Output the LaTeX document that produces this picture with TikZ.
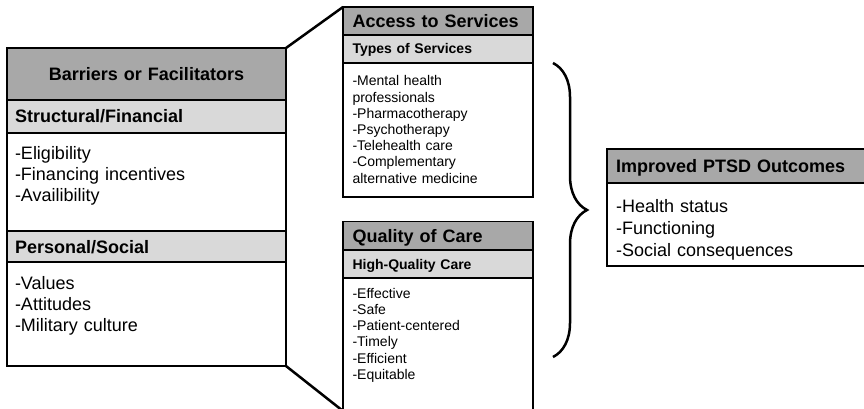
\documentclass[tikz,border=0pt]{standalone}
\usepackage{fontspec}
\setmainfont{Liberation Sans}
\usetikzlibrary{positioning,decorations.pathreplacing}
\definecolor{headdark}{gray}{0.66}
\definecolor{headlight}{gray}{0.85}
\tikzset{
	part/.style={draw,line width=1.5pt,inner ysep=0pt,outer sep=0pt,align=left},
	dark/.style={part,fill=headdark,text depth=0pt},
	light/.style={part,fill=headlight,text depth=0pt},
	list/.style 2 args={part,fill=white,text height=#1,text depth=#2},
	leftcol/.style={text width=263pt,inner xsep=8pt,font=\fontsize{18}{21}\selectfont},
	midcol/.style={text width=171pt,inner xsep=9.5pt,font=\fontsize{14}{16.2}\selectfont},
	outcol/.style={text width=248pt,inner xsep=9pt,font=\fontsize{18}{21.7}\selectfont},
	link/.style={line width=2.5pt}
}
\begin{document}
\begin{tikzpicture}[x=1pt,y=-1pt]
	\useasboundingbox (0,0) rectangle (864,409);

	\node[dark,leftcol,align=center,text height=13pt,minimum height=52pt,anchor=north west] (barriers) at (7,48) {\textbf{Barriers or Facilitators}};
	\node[light,leftcol,text height=13pt,minimum height=33pt] (structural) [below=0pt of barriers] {\textbf{Structural/Financial}};
	\node[list={26.6pt}{71.4pt},leftcol] (structlist) [below=0pt of structural] {-Eligibility\\-Financing incentives\\-Availibility};
	\node[light,leftcol,text height=13pt,minimum height=31pt] (personal) [below=0pt of structlist] {\textbf{Personal/Social}};
	\node[list={27.6pt}{76.4pt},leftcol] (perslist) [below=0pt of personal] {-Values\\-Attitudes\\-Military culture};

	\node[dark,midcol,text height=13pt,minimum height=28pt,anchor=north west,font=\fontsize{18}{21}\selectfont] (access) at (343,7) {\textbf{Access to Services}};
	\node[light,midcol,text height=10pt,minimum height=28pt] (types) [below=0pt of access] {\textbf{Types of Services}};
	\node[list={23pt}{111pt},midcol] (typelist) [below=0pt of types] {-Mental health\\professionals\\-Pharmacotherapy\\-Psychotherapy\\-Telehealth care\\-Complementary\\alternative medicine};

	\node[dark,midcol,text height=13pt,minimum height=28.5pt,anchor=north west,font=\fontsize{18}{21}\selectfont] (quality) at (343,221.5) {\textbf{Quality of Care}};
	\node[light,midcol,text height=10pt,minimum height=28pt] (highq) [below=0pt of quality] {\textbf{High-Quality Care}};
	\node[list={20.3pt}{112.7pt},midcol] (qualist) [below=0pt of highq] {-Effective\\-Safe\\-Patient-centered\\-Timely\\-Efficient\\-Equitable};

	\node[dark,outcol,text height=13pt,minimum height=34pt,anchor=north west] (outcome) at (607,149) {\textbf{Improved PTSD Outcomes}};
	\node[list={29.9pt}{53.1pt},outcol] (outlist) [below=0pt of outcome] {-Health status\\-Functioning\\-Social consequences};

	\draw[link] (barriers.north east) -- (access.north west);
	\draw[link] (perslist.south east) -- (qualist.south west);

	\coordinate (bracetop) at (553,63);
	\coordinate (bracebot) at (553,357);
	\draw[link,decorate,decoration={brace,amplitude=34pt}] (bracetop) -- (bracebot);
\end{tikzpicture}
\end{document}
